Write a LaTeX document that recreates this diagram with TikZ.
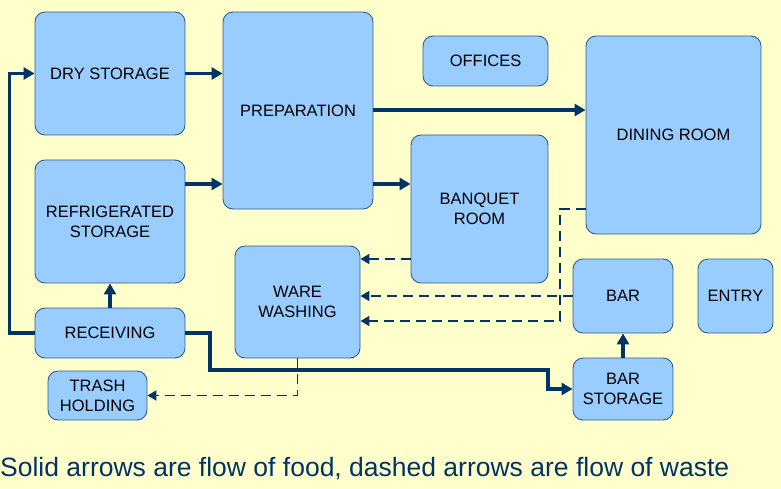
\documentclass[tikz,border=0pt]{standalone}
\usepackage{fontspec}
\setmainfont{Liberation Sans}
\usetikzlibrary{arrows.meta}
\definecolor{bgc}{HTML}{FFFFCC}
\definecolor{boxfill}{HTML}{99CCFF}
\definecolor{boxline}{HTML}{2F5F8F}
\definecolor{flow}{HTML}{003366}
\begin{document}
\begin{tikzpicture}[x=1pt,y=-1pt,
  box/.style={draw=boxline, line width=0.9pt, fill=boxfill, rounded corners=10pt,
    inner sep=0pt, align=center, text=black, font=\fontsize{16.5}{20}\selectfont},
  food/.style={draw=flow, line width=3.4pt, -{Triangle[length=11pt,width=12pt]}},
  waste/.style={draw=flow, line width=1.8pt, dash pattern=on 10pt off 6pt, -{Triangle[length=9pt,width=10pt]}}]
\fill[bgc] (0,0) rectangle (781,489);
\useasboundingbox (0,0) rectangle (781,489);

\node[box, minimum width=150pt, minimum height=123pt] (dry) at (110,73.5) {DRY STORAGE};
\node[box, minimum width=150pt, minimum height=197pt] (prep) at (298,110.5) {PREPARATION};
\node[box, minimum width=150pt, minimum height=123pt] (refr) at (110,221.5) {REFRIGERATED\\STORAGE};
\node[box, minimum width=150pt, minimum height=50pt] (recv) at (110,333) {RECEIVING};
\node[box, minimum width=99pt, minimum height=49pt] (trash) at (97.5,395.5) {TRASH\\HOLDING};
\node[box, minimum width=125pt, minimum height=112pt] (ware) at (297.5,302) {WARE\\WASHING};
\node[box, minimum width=125pt, minimum height=50pt] (off) at (485.5,61) {OFFICES};
\node[box, minimum width=175pt, minimum height=198pt] (din) at (673.5,135) {DINING ROOM};
\node[box, minimum width=137pt, minimum height=148pt] (banq) at (479.5,209) {BANQUET\\ROOM};
\node[box, minimum width=100pt, minimum height=74pt] (bar) at (623,296) {BAR};
\node[box, minimum width=75pt, minimum height=74pt] (entry) at (735.5,296) {ENTRY};
\node[box, minimum width=100pt, minimum height=62pt] (barst) at (623,389) {BAR\\STORAGE};

% food flow
\draw[food] (recv.west) -- ++(-25,0) |- (dry.west);
\draw[food] (dry.east) -- (dry.east -| prep.west);
\draw[food] (refr.east |- 0,184) -- (prep.west |- 0,184);
\draw[food] (recv.north) -- (refr.south);
\draw[food] (prep.east |- 0,110) -- (din.west |- 0,110);
\draw[food] (prep.east |- 0,184) -- (banq.west |- 0,184);
\draw[food] (recv.east) -- (210,333) -- (210,370) -- (548,370) |- (barst.west);
\draw[food] (barst.north) -- (bar.south);

% waste flow
\draw[waste] (din.west |- 0,209) -- (560,209) -- (560,321) -- (ware.east |- 0,321);
\draw[waste] (bar.west) -- (ware.east |- bar.west);
\draw[waste] (banq.west |- 0,259) -- (ware.east |- 0,259);
\draw[waste] (ware.south) |- (trash.east);

\node[anchor=base west, inner sep=0pt, text=flow, font=\fontsize{26.5}{30}\selectfont] (cap) at (0,476) {Solid arrows are flow of food, dashed arrows are flow of waste};
\end{tikzpicture}
\end{document}
